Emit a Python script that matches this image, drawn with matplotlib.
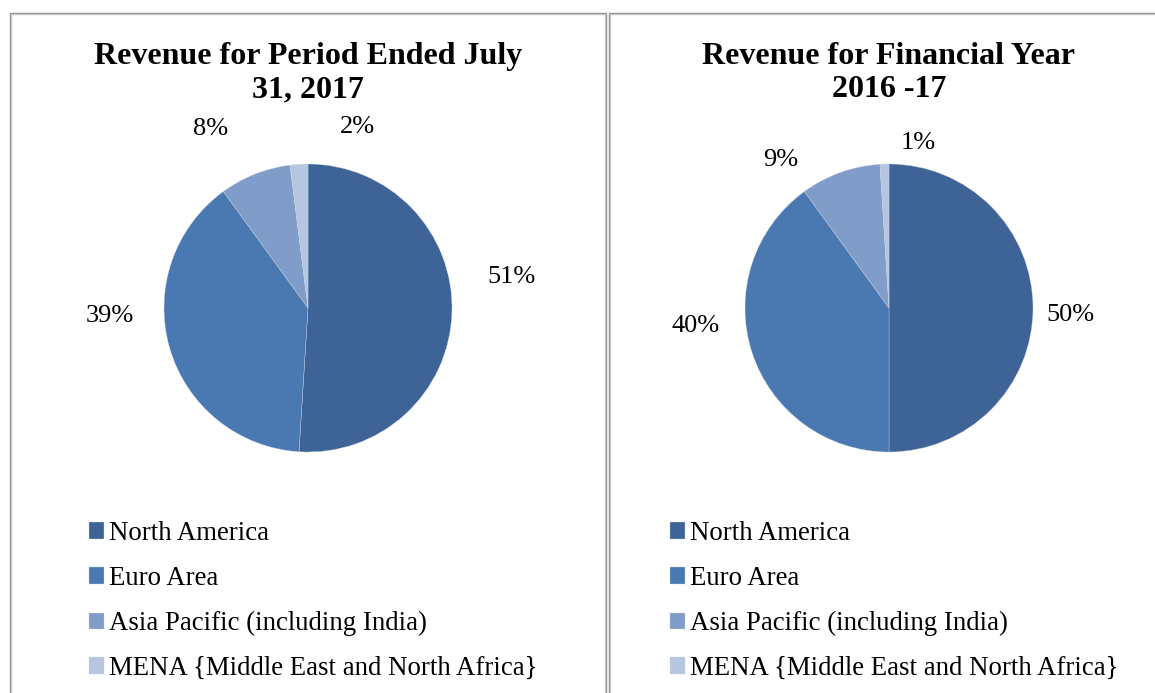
import matplotlib
matplotlib.use("Agg")
import matplotlib.pyplot as plt
from matplotlib.lines import Line2D

plt.rcParams["font.family"] = ["Liberation Serif", "DejaVu Serif"]

W, H = 1155, 693

regions = [
    "North America",
    "Euro Area",
    "Asia Pacific (including India)",
    "MENA {Middle East and North Africa}",
]
colors = ["#3E6497", "#4A78B0", "#7F9DC8", "#B7C6E0"]

period_title = "Revenue for Period Ended July\n31, 2017"
period_share = [51, 39, 8, 2]

year_title = "Revenue for Financial Year\n2016 -17"
year_share = [50, 40, 9, 1]

# label spots, in pie-radius units from the centre
period_label_xy = [(1.41, 0.215), (-1.375, -0.056), (-0.68, 1.243), (0.34, 1.257)]
year_label_xy = [(1.257, -0.049), (-1.34, -0.125), (-0.75, 1.028), (0.20, 1.146)]

fig = plt.figure(figsize=(W / 100, H / 100), dpi=100)
fig.patch.set_facecolor("white")


def px(x, y):
    return x / W, 1 - y / H


def line(x0, y0, x1, y1, color, lw):
    (a, b), (c, d) = px(x0, y0), px(x1, y1)
    fig.add_artist(Line2D([a, c], [b, d], color=color, lw=lw,
                          transform=fig.transFigure, solid_capstyle="butt"))


# panel frames
for c, off in (("#8a8a8a", 0), ("#c8c8c8", 1.3)):
    line(10 + off, 13 + off, 10 + off, H, c, 1.0)
    line(10 + off, 13 + off, 606 - off, 13 + off, c, 1.0)
    line(606 - off, 13 + off, 606 - off, H, c, 1.0)
    line(609 + off, 13 + off, 609 + off, H, c, 1.0)
    line(609 + off, 13 + off, W, 13 + off, c, 1.0)


def panel(cx, title, shares, label_xy, legend_x):
    r = 144
    cy = 308
    x0, y0 = px(cx - r, cy + r)
    ax = fig.add_axes([x0, y0, 2 * r / W, 2 * r / H])
    wedges, _ = ax.pie(shares, colors=colors, startangle=90, counterclock=False,
                       radius=1, wedgeprops=dict(edgecolor="#c9d4e6", linewidth=0.25))
    ax.set_xlim(-1, 1)
    ax.set_ylim(-1, 1)
    ax.set_aspect("equal")
    ax.axis("off")
    for v, (lx, ly) in zip(shares, label_xy):
        ax.text(lx, ly, f"{v}%", ha="center", va="center", fontsize=19)

    tx, ty = px(cx, 73)
    fig.text(tx, ty, title, ha="center", va="center", fontsize=23,
             fontweight="bold", linespacing=1.2)

    lx, ly = px(legend_x, 521)
    fig.legend(wedges, regions, loc="upper left", bbox_to_anchor=(lx, ly),
               frameon=False, fontsize=19.3, handlelength=0.55, handleheight=0.55,
               handletextpad=0.2, labelspacing=0.745, borderpad=0,
               borderaxespad=0)


panel(308, period_title, period_share, period_label_xy, 89)
panel(889, year_title, year_share, year_label_xy, 670)

fig.savefig("out.png", dpi=100)
